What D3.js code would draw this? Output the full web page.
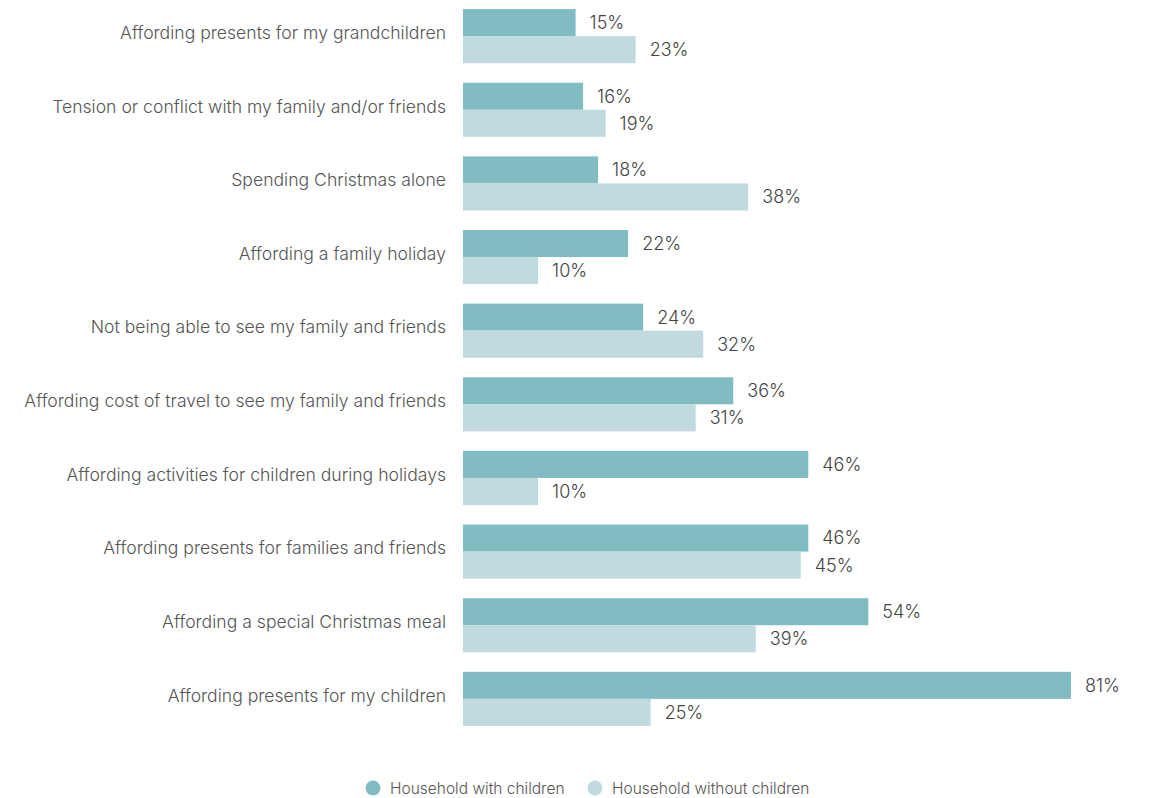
<!DOCTYPE html>
<html>
<head>
<meta charset="utf-8">
<script src="https://cdn.jsdelivr.net/npm/d3@7"></script>
<style>
  body { margin: 0; background: #fff; }
  svg { font-family: "Inter", "Noto Sans", sans-serif; }
</style>
</head>
<body>
<svg id="svg" width="1149" height="798"></svg>
<script>
var categories = [
    "Affording presents for my grandchildren",
    "Tension or conflict with my family and/or friends",
    "Spending Christmas alone",
    "Affording a family holiday",
    "Not being able to see my family and friends",
    "Affording cost of travel to see my family and friends",
    "Affording activities for children during holidays",
    "Affording presents for families and friends",
    "Affording a special Christmas meal",
    "Affording presents for my children"
];
var withChildren = [15, 16, 18, 22, 24, 36, 46, 46, 54, 81];
var withoutChildren = [23, 19, 38, 10, 32, 31, 10, 45, 39, 25];
var seriesNames = ["Household with children", "Household without children"];

var svg = d3.select("svg"),
    width = +svg.attr("width"),
    height = +svg.attr("height");

var colors = ["#80bcc2", "#c0dae0"];
var left = 463;

// x scale: 81% ends at ~1071
var x = d3.scaleLinear().domain([0, 81]).range([left, 1071]);

var y = d3.scaleBand()
    .domain(categories)
    .range([-0.5, 735.5])
    .paddingInner(0.265)
    .paddingOuter(0.13);

var sub = d3.scaleBand()
    .domain([0, 1])
    .range([0, y.bandwidth()]);

var g = svg.append("g");

var rows = g.selectAll("g.row")
    .data(categories)
    .enter()
    .append("g")
    .attr("class", "row")
    .attr("transform", function (d) { return "translate(0," + y(d) + ")"; });

// category labels
rows.append("text")
    .attr("x", 446)
    .attr("y", y.bandwidth() / 2 - 2)
    .attr("text-anchor", "end")
    .attr("dominant-baseline", "middle")
    .style("font-size", "17.6px")
    .style("font-weight", 300)
    .style("fill", "#555")
    .text(function (d) { return d; });

var series = [withChildren, withoutChildren];

series.forEach(function (vals, s) {
    rows.append("rect")
        .attr("x", left)
        .attr("y", sub(s))
        .attr("width", function (d, i) { return x(vals[i]) - left; })
        .attr("height", sub.bandwidth())
        .attr("fill", colors[s]);

    rows.append("text")
        .attr("x", function (d, i) { return x(vals[i]) + 14; })
        .attr("y", sub(s) + sub.bandwidth() / 2 + 1.5)
        .attr("dominant-baseline", "middle")
        .style("font-size", "18px")
        .style("font-weight", 300)
        .style("fill", "#444")
        .text(function (d, i) { return vals[i] + "%"; });
});

// legend
var legendX = [373, 595];
var legend = svg.selectAll("g.legend")
    .data(seriesNames)
    .enter()
    .append("g")
    .attr("class", "legend")
    .attr("transform", function (d, i) { return "translate(" + legendX[i] + ",788)"; });

legend.append("circle")
    .attr("r", 7.5)
    .attr("fill", function (d, i) { return colors[i]; });

legend.append("text")
    .attr("x", 17)
    .attr("y", 1.5)
    .attr("dominant-baseline", "middle")
    .style("font-size", "15.5px")
    .style("font-weight", 300)
    .style("fill", "#555")
    .text(function (d) { return d; });
</script>
</body>
</html>
